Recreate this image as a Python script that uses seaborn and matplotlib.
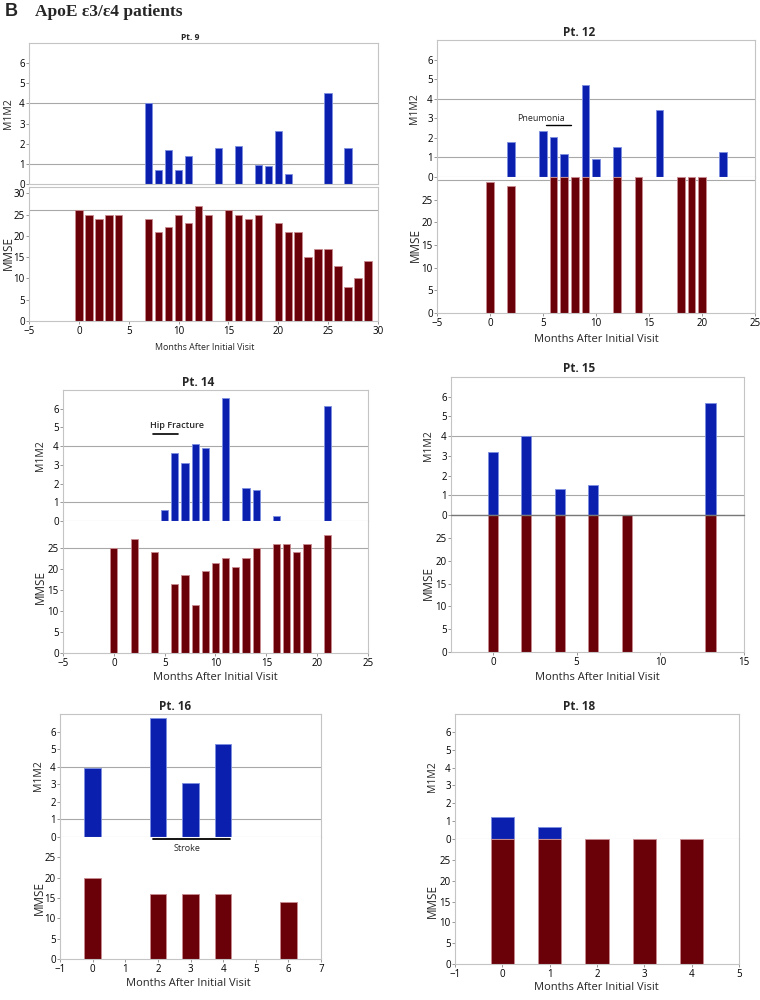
import matplotlib
matplotlib.use("Agg")
import matplotlib.pyplot as plt
import numpy as np
import seaborn as sns

# --- data (months after initial visit, scores) ---
pt9_m1m2_months = [7, 8, 9, 10, 11, 14, 16, 18, 19, 20, 21, 25, 27]
pt9_m1m2 = [4.0, 0.7, 1.7, 0.7, 1.4, 1.8, 1.9, 0.95, 0.9, 2.65, 0.5, 4.5, 1.8]
pt9_mmse_months = [0, 1, 2, 3, 4, 7, 8, 9, 10, 11, 12, 13, 15, 16, 17, 18, 20, 21, 22, 23, 24, 25, 26, 27, 28, 29]
pt9_mmse = [26, 25, 24, 25, 25, 24, 21, 22, 25, 23, 27, 25, 26, 25, 24, 25, 23, 21, 21, 15, 17, 17, 13, 8, 10, 14]

pt12_m1m2_months = [2, 5, 6, 7, 9, 10, 12, 16, 22]
pt12_m1m2 = [1.8, 2.35, 2.05, 1.2, 4.7, 0.9, 1.55, 3.4, 1.3]
pt12_mmse_months = [0, 2, 6, 7, 8, 9, 12, 14, 18, 19, 20]
pt12_mmse = [29, 28, 30, 30, 30, 30, 30, 30, 30, 30, 30]

pt14_m1m2_months = [5, 6, 7, 8, 9, 11, 13, 14, 16, 21]
pt14_m1m2 = [0.6, 3.65, 3.1, 4.1, 3.9, 6.55, 1.75, 1.65, 0.25, 6.15]
pt14_mmse_months = [0, 2, 4, 6, 7, 8, 9, 10, 11, 12, 13, 14, 16, 17, 18, 19, 21]
pt14_mmse = [25, 27, 24, 16.5, 18.5, 11.5, 19.5, 21.5, 22.5, 20.5, 22.5, 25, 26, 26, 24, 26, 28]

pt15_m1m2_months = [0, 2, 4, 6, 13]
pt15_m1m2 = [3.2, 4.0, 1.3, 1.5, 5.7]
pt15_mmse_months = [0, 2, 4, 6, 8, 13]
pt15_mmse = [30, 30, 30, 30, 30, 30]

pt16_m1m2_months = [0, 2, 3, 4]
pt16_m1m2 = [3.95, 6.8, 3.1, 5.3]
pt16_mmse_months = [0, 2, 3, 4, 6]
pt16_mmse = [20, 16, 16, 16, 14]

pt18_m1m2_months = [0, 1]
pt18_m1m2 = [1.25, 0.7]
pt18_mmse_months = [0, 1, 2, 3, 4]
pt18_mmse = [30, 30, 30, 30, 30]

titles = ["Pt. 9", "Pt. 12", "Pt. 14", "Pt. 15", "Pt. 16", "Pt. 18"]

BLUE = "#0b1faf"
BLUE_EDGE = "#7d8fe0"
RED = "#6a0008"
RED_EDGE = "#c98a90"
GRID = "#a8a8a8"
SPINE = "#c4c4c4"

W, H = 760, 1000

sns.set_style("white")
plt.rcParams['font.family'] = ['Open Sans', 'DejaVu Sans']

fig = plt.figure(figsize=(7.6, 10), dpi=100)


def box(l, r, t, b):
    return [l / W, 1 - b / H, (r - l) / W, (b - t) / H]


def bars(ax, x, y, width, color, edge):
    step = np.diff(np.unique(np.asarray(x, float))).min()
    sns.barplot(x=x, y=y, native_scale=True, orient="x", width=width / step,
                color=color, saturation=1, edgecolor=edge, linewidth=0.6,
                errorbar=None, ax=ax, zorder=2)


# layout: left, right, top, middle (M1M2 zero), bottom in pixels
layout = [
    dict(m=(pt9_m1m2_months, pt9_m1m2), s=(pt9_mmse_months, pt9_mmse),
         px=(29, 378, 43, 184, 321), gap=3, xlim=(-5, 30), xticks=range(-5, 31, 5),
         mtop=31.5, mticks=range(0, 31, 5), mref=[26], gref=[1, 4], w=0.75,
         title=(190, 37), ylx=8, xl=(205, 348), sc=0.8, tsc=0.72, zc=None),
    dict(m=(pt12_m1m2_months, pt12_m1m2), s=(pt12_mmse_months, pt12_mmse),
         px=(437, 755, 40, 177, 313), gap=0, xlim=(-5, 25), xticks=range(-5, 26, 5),
         mtop=30, mticks=range(0, 26, 5), mref=[29.3], gref=[1, 4], w=0.72,
         title=(579, 32), ylx=415, xl=(596, 339), sc=1.0, tsc=1.0, zc=None),
    dict(m=(pt14_m1m2_months, pt14_m1m2), s=(pt14_mmse_months, pt14_mmse),
         px=(63, 368, 390, 521, 653), gap=0, xlim=(-5, 25), xticks=range(-5, 26, 5),
         mtop=31.4, mticks=range(0, 26, 5), mref=[25], gref=[1, 4], w=0.72,
         title=(198, 382), ylx=40, xl=(215, 677), sc=1.0, tsc=1.0, zc=None),
    dict(m=(pt15_m1m2_months, pt15_m1m2), s=(pt15_mmse_months, pt15_mmse),
         px=(451, 744, 377, 515, 652), gap=0, xlim=(-2.5, 15), xticks=range(0, 16, 5),
         mtop=30, mticks=range(0, 26, 5), mref=[], gref=[1, 4], w=0.6,
         title=(579, 369), ylx=428, xl=(597, 677), sc=1.0, tsc=1.0, zc="#777777"),
    dict(m=(pt16_m1m2_months, pt16_m1m2), s=(pt16_mmse_months, pt16_mmse),
         px=(60, 321, 714, 837, 959), gap=0, xlim=(-1, 7), xticks=range(-1, 8),
         mtop=30, mticks=range(0, 26, 5), mref=[], gref=[1, 4], w=0.5,
         title=(175, 707), ylx=39, xl=(188, 983), sc=1.0, tsc=1.0, zc=None),
    dict(m=(pt18_m1m2_months, pt18_m1m2), s=(pt18_mmse_months, pt18_mmse),
         px=(455, 739, 714, 839, 964), gap=0, xlim=(-1, 5), xticks=range(-1, 6),
         mtop=30, mticks=range(0, 26, 5), mref=[], gref=[], w=0.5,
         title=(579, 707), ylx=432, xl=(596, 988), sc=1.0, tsc=1.0, zc=None),
]

axes = []
for i, p in enumerate(layout):
    l, r, t, mid, b = p["px"]
    ax1 = fig.add_axes(box(l, r, t, mid))
    ax2 = fig.add_axes(box(l, r, mid + p["gap"], b))

    bars(ax1, p["m"][0], p["m"][1], p["w"], BLUE, BLUE_EDGE)
    bars(ax2, p["s"][0], p["s"][1], p["w"], RED, RED_EDGE)

    for v in p["gref"]:
        ax1.axhline(v, color=GRID, lw=0.8, zorder=1)
    for v in p["mref"]:
        ax2.axhline(v, color=GRID, lw=0.8, zorder=1)

    ax1.set_ylim(0, 7)
    ax1.set_yticks(range(0, 7))
    ax2.set_ylim(0, p["mtop"])
    ax2.set_yticks(list(p["mticks"]))
    for ax in (ax1, ax2):
        ax.set_xlim(*p["xlim"])
        ax.set_xlabel("")
        ax.set_ylabel("")
        for sp in ax.spines.values():
            sp.set_color(SPINE)
            sp.set_linewidth(0.8)
        ax.tick_params(axis="y", left=True, length=2, width=0.6, color="#888888",
                       labelsize=7, pad=1, labelcolor="#000000")
    ax2.spines["top"].set_visible(p["gap"] > 0)
    if p["zc"]:
        # dark zero line between the two score panels
        ax2.axhline(p["mtop"], color=p["zc"], lw=1.0, zorder=3, clip_on=False)
    ax1.tick_params(axis="x", bottom=False, labelbottom=False)
    ax2.set_xticks(list(p["xticks"]))
    ax2.tick_params(axis="x", bottom=True, length=2, width=0.6, color="#888888",
                    labelsize=7, pad=1.5, labelcolor="#000000")

    tx, ty = p["title"]
    fig.text(tx / W, 1 - ty / H, titles[i], ha="center", va="center",
             fontsize=8.5 * p["tsc"], fontweight="bold")
    fig.text(p["ylx"] / W, 1 - ((t + mid) / 2) / H, "M1M2", rotation=90,
             ha="center", va="center", fontsize=7.5)
    fig.text(p["ylx"] / W, 1 - ((mid + b) / 2) / H, "MMSE", rotation=90,
             ha="center", va="center", fontsize=8.5)
    xx, xy = p["xl"]
    fig.text(xx / W, 1 - xy / H, "Months After Initial Visit", ha="center",
             va="center", fontsize=8 * p["sc"])
    axes.append((ax1, ax2))

# event annotations
ax = axes[1][0]
ax.text(4.8, 3.0, "Pneumonia", ha="center", va="center", fontsize=6.5)
ax.plot([5.25, 7.65], [2.64, 2.64], color="black", lw=1.0)

ax = axes[2][0]
ax.text(6.25, 5.1, "Hip Fracture", ha="center", va="center", fontsize=6.5,
        fontweight="semibold")
ax.plot([3.9, 6.35], [4.66, 4.66], color="black", lw=1.2)

ax = axes[4][1]
ax.plot([1.85, 4.2], [29.4, 29.4], color="black", lw=1.3, clip_on=False)
ax.text(2.9, 27.2, "Stroke", ha="center", va="center", fontsize=6.5)

# header
fig.text(5 / W, 1 - 12 / H, "B", ha="left", va="center", fontsize=13,
         fontweight="bold", family=["Liberation Sans", "DejaVu Sans"])
fig.text(35 / W, 1 - 12 / H, "ApoE \u03b53/\u03b54 patients", ha="left",
         va="center", fontsize=12.5, fontweight="bold",
         family=["Liberation Serif", "DejaVu Serif"])

fig.savefig("out.png", dpi=100)
